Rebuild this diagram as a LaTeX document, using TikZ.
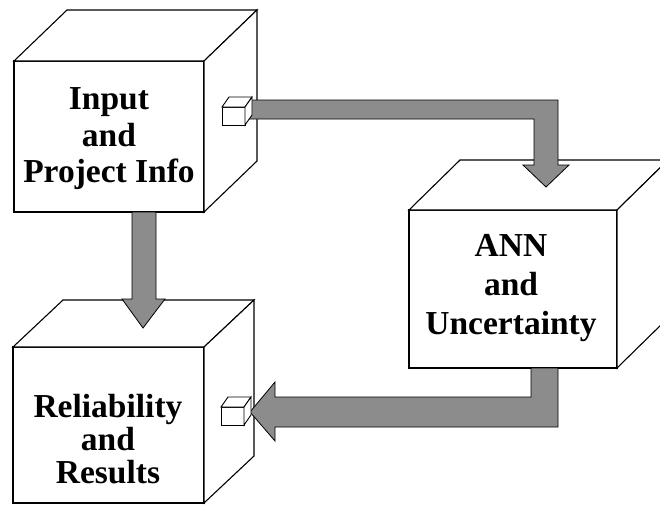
\documentclass[tikz,border=0pt]{standalone}
\usepackage{fontspec}
\setmainfont{Liberation Serif}
\begin{document}
\begin{tikzpicture}[x=1pt,y=-1pt,
  cubeline/.style={draw=black,fill=white,line width=1.1pt,line join=miter},
  flow/.style={draw=black,fill=black!45,line width=0.8pt,line join=miter},
  label/.style={inner sep=0pt,align=center,font=\bfseries}]
% drawing area
\useasboundingbox (0,0) rectangle (660,515);
\clip (0,0) rectangle (660,515);

% a box drawn as a cube: front corners (#1,#2)-(#3,#4), depth offset (#5,#6)
\newcommand\drawcube[6]{%
  \path[cubeline] (#1,#2) rectangle (#3,#4);
  \path[cubeline] (#1,#2) -- ([shift={(#5,#6)}]#1,#2)
        -- ([shift={(#5,#6)}]#3,#2) -- (#3,#2) -- cycle;
  \path[cubeline] (#3,#2) -- ([shift={(#5,#6)}]#3,#2)
        -- ([shift={(#5,#6)}]#3,#4) -- (#3,#4) -- cycle;
}

% the three main blocks
\drawcube{14}{61}{204}{212}{53}{-51}
\drawcube{409}{210}{617}{368}{51}{-50}
\drawcube{13}{347}{204}{503}{50}{-47}

% block texts
\node[label,font=\fontsize{33.5}{36.5}\selectfont\bfseries] (input) at (109,139)
  {Input\\and\\Project Info};
\node[label,font=\fontsize{33.5}{39}\selectfont\bfseries] (ann) at (511,288.5)
  {ANN\\and\\Uncertainty};
\node[label,font=\fontsize{33.5}{33}\selectfont\bfseries] (results) at (108,439)
  {Reliability\\and\\Results};

% anchor points of the flow arrows
\coordinate (outA) at (245,100);
\coordinate (inB) at (546,187);
\coordinate (outB) at (531,368);
\coordinate (inC) at (250,412);
\coordinate (outD) at (132,212);
\coordinate (inD) at (143,328);

% Input -> ANN
\path[flow] (outA) -- (558,100) -- (558,165) -- (569,165) -- (inB)
  -- (523,165) -- (534,165) -- (534,119) -- (245,119) -- cycle;

% ANN -> Results
\path[flow] (outB) -- (558,368) -- (558,427) -- (275,427) -- (275,441)
  -- (inC) -- (275,382) -- (275,397) -- (531,397) -- cycle;

% Input -> Results
\path[flow] (outD) -- (156,212) -- (156,299) -- (165,299) -- (inD)
  -- (122,299) -- (132,299) -- cycle;

% small port cubes on the side faces
\begin{scope}[cubeline/.style={draw=black,fill=white,line width=0.9pt,line join=miter}]
\drawcube{222}{107}{245}{125}{7}{-10}
\drawcube{221}{407}{244}{425}{7}{-10}
\end{scope}
\end{tikzpicture}
\end{document}
